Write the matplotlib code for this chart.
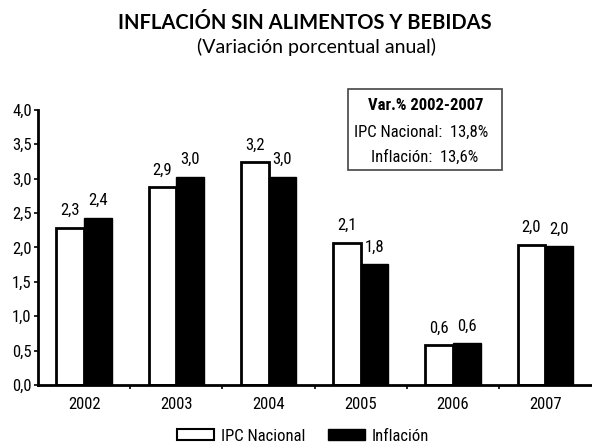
import numpy as np
import matplotlib
matplotlib.use("Agg")
import matplotlib.pyplot as plt
from matplotlib.patches import Patch
from matplotlib import font_manager

# data
years = ['2002', '2003', '2004', '2005', '2006', '2007']
ipc_nacional = [2.29, 2.88, 3.24, 2.07, 0.58, 2.04]
inflacion = [2.43, 3.03, 3.03, 1.76, 0.61, 2.02]
yticks = [0.0, 0.5, 1.0, 1.5, 2.0, 2.5, 3.0, 3.5, 4.0]
box_lines = ['Var.% 2002-2007', 'IPC Nacional:  13,8%', 'Inflación:  13,6%']

# narrow font like the original, if there is one
names = set(f.name for f in font_manager.fontManager.ttflist)
narrow = dict(family='DejaVu Sans', stretch='condensed')
for cand in ['Liberation Sans Narrow', 'Roboto Condensed', 'Open Sans Condensed']:
    if cand in names:
        narrow = dict(family=cand)
        break

fs = 12


def coma(v):
    return '{:.1f}'.format(v).replace('.', ',')


fig = plt.figure(figsize=(5.92, 4.48), dpi=100)
ax = fig.add_axes([0.064, 0.1406, 0.935, 0.614])

x = np.arange(len(years))
w = 0.3
ax.bar(x - w / 2, ipc_nacional, w, color='white', edgecolor='black', linewidth=2)
ax.bar(x + w / 2, inflacion, w, color='black', edgecolor='black', linewidth=1)

# value labels
for i in range(len(years)):
    ax.text(x[i] - w / 2, ipc_nacional[i] + 0.14, coma(ipc_nacional[i]),
            ha='center', va='bottom', fontsize=fs, **narrow)
    ax.text(x[i] + w / 2, inflacion[i] + 0.14, coma(inflacion[i]),
            ha='center', va='bottom', fontsize=fs, **narrow)

ax.set_xlim(-0.5, 5.5)
ax.set_ylim(0, 4.0)
ax.set_yticks(yticks)
ax.set_yticklabels([coma(t) for t in yticks], fontsize=fs, **narrow)
ax.set_xticks(np.arange(0.5, 5.5, 1.0))
ax.set_xticklabels([])
ax.tick_params(axis='y', length=3, width=1.2, pad=1.5)
ax.tick_params(axis='x', length=3, width=1.2)
for i, yr in enumerate(years):
    ax.text(x[i], -0.17, yr, ha='center', va='top', fontsize=fs, **narrow)

for s in ['top', 'right']:
    ax.spines[s].set_visible(False)
ax.spines['left'].set_linewidth(2)
ax.spines['bottom'].set_linewidth(2)

# titles
fig.text(0.515, 0.948, 'INFLACIÓN SIN ALIMENTOS Y BEBIDAS', ha='center', va='center',
         fontsize=14.5, fontweight='bold', family='Lato')
fig.text(0.535, 0.895, '(Variación porcentual anual)', ha='center', va='center',
         fontsize=14, family='Lato')

# summary box
box = plt.Rectangle((348 / 592, 1 - 170 / 448), 154 / 592, 81 / 448,
                    transform=fig.transFigure, facecolor='white',
                    edgecolor='#444444', linewidth=1.2)
fig.patches.append(box)
fig.text(426 / 592, 1 - 105 / 448, box_lines[0], ha='center', va='center',
         fontsize=fs, fontweight='bold', **narrow)
fig.text(421 / 592, 1 - 132 / 448, box_lines[1], ha='center', va='center',
         fontsize=fs, **narrow)
fig.text(425 / 592, 1 - 157 / 448, box_lines[2], ha='center', va='center',
         fontsize=fs, **narrow)

# legend
handles = [Patch(facecolor='white', edgecolor='black', linewidth=1.5, label='IPC Nacional'),
           Patch(facecolor='black', edgecolor='black', label='Inflación')]
lp = dict(size=fs)
lp.update(narrow)
fig.legend(handles=handles, loc='center', bbox_to_anchor=(0.512, 1 - 436 / 448),
           ncol=2, frameon=False, prop=lp,
           handlelength=2.2, handleheight=0.66, columnspacing=1.4, handletextpad=0.4)

fig.savefig('out.png', dpi=100)
